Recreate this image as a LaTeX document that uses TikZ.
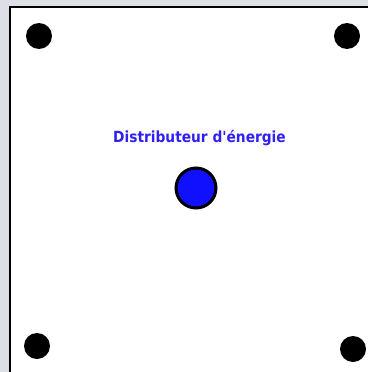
\documentclass[tikz,border=0pt]{standalone}
\usepackage{fontspec}
\setmainfont{DejaVu Sans}
\newfontfamily\lblfont{DejaVu Sans Condensed Bold}
\definecolor{bgout}{HTML}{DCE0E6}
\definecolor{dotblue}{HTML}{1010FF}
\definecolor{txtblue}{HTML}{3020F4}
\tikzset{
  blackdot/.style={circle,fill=black,draw=none,minimum size=26pt,inner sep=0pt},
  source/.style={circle,fill=dotblue,draw=black,line width=3pt,minimum size=40pt,inner sep=0pt},
  lbl/.style={text=txtblue,font=\lblfont\fontsize{15.3}{18}\selectfont,inner sep=0pt,anchor=base}
}
\begin{document}
\begin{tikzpicture}[x=1pt,y=-1pt]
\useasboundingbox (0,0) rectangle (368,372);
\fill[bgout] (0,0) rectangle (368,372);
\fill[white] (10,7) rectangle (368,372);
\draw[black,line width=2pt] (10,372) -- (10,7) -- (368,7);
\node[blackdot] (tl) at (39,36) {};
\node[blackdot] (tr) at (347,36) {};
\node[blackdot] (bl) at (37,346) {};
\node[blackdot] (br) at (353,349) {};
\node[source] (src) at (196,188) {};
\node[lbl] (label) at (199.5,142) {Distributeur d\textquotesingle énergie};
\end{tikzpicture}
\end{document}
